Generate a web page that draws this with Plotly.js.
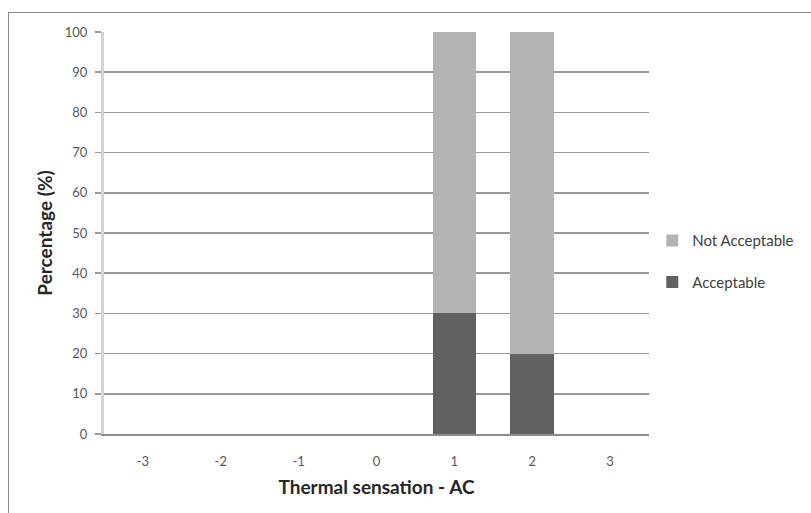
<!DOCTYPE html>
<html><head><meta charset="utf-8">
<script src="https://cdn.plot.ly/plotly-3.0.1.min.js"></script>
<style>
html,body{margin:0;padding:0;background:#fff;}
#frame{position:absolute;left:8px;top:12px;width:900px;height:600px;border:1px solid #8c8c8c;}
#chart{position:absolute;left:0;top:0;width:811px;height:513px;}
</style></head>
<body>
<div id="frame"></div>
<div id="chart"></div>
<script>
const categories = ['-3','-2','-1','0','1','2','3'];
const acceptable = [0,0,0,0,30,20,0];
const notAcceptable = [0,0,0,0,70,80,0];
const yTicks = [0,10,20,30,40,50,60,70,80,90,100];

const fontFam = 'Lato, "Open Sans", sans-serif';
const traces = [
  {type:'bar', name:'Acceptable', x:categories, y:acceptable, marker:{color:'#616161'}, width:0.56, legendgroup:'a', legendrank:2, hoverinfo:'skip'},
  {type:'bar', name:'Not Acceptable', x:categories, y:notAcceptable, marker:{color:'#b3b3b3'}, width:0.56, legendgroup:'b', legendrank:1, hoverinfo:'skip'}
];
const layout = {
  width:811, height:513,
  paper_bgcolor:'rgba(0,0,0,0)', plot_bgcolor:'rgba(0,0,0,0)',
  margin:{l:104, r:162, t:32, b:79},
  barmode:'stack',
  font:{family:fontFam, size:13, color:'#595959'},
  showlegend:true,
  legend:{x:1.006, y:0.43, xanchor:'left', yanchor:'middle', traceorder:'grouped', tracegroupgap:19, font:{size:15, color:'#404040'}, bgcolor:'rgba(0,0,0,0)'},
  xaxis:{type:'category', categoryorder:'array', categoryarray:categories, showgrid:false, showline:true, linecolor:'#8c8c8c', linewidth:2,
         ticks:'', ticklabelstandoff:14, tickfont:{size:13, color:'#595959'},
         title:{text:'<b>Thermal sensation - AC</b>', font:{size:19, color:'#262626'}, standoff:13}},
  yaxis:{range:[0,100], tickvals:yTicks, showgrid:true, gridcolor:'#999999', gridwidth:1.5, zeroline:false,
         showline:true, linecolor:'#d4d4d4', linewidth:3, ticks:'outside', ticklen:6, tickcolor:'#999999', tickwidth:1.5,
         ticklabelstandoff:5, tickfont:{size:13, color:'#595959'},
         title:{text:'<b>Percentage (%)</b>', font:{size:19, color:'#262626'}, standoff:8}}
};
Plotly.newPlot('chart', traces, layout, {staticPlot:true});
</script>
</body></html>
